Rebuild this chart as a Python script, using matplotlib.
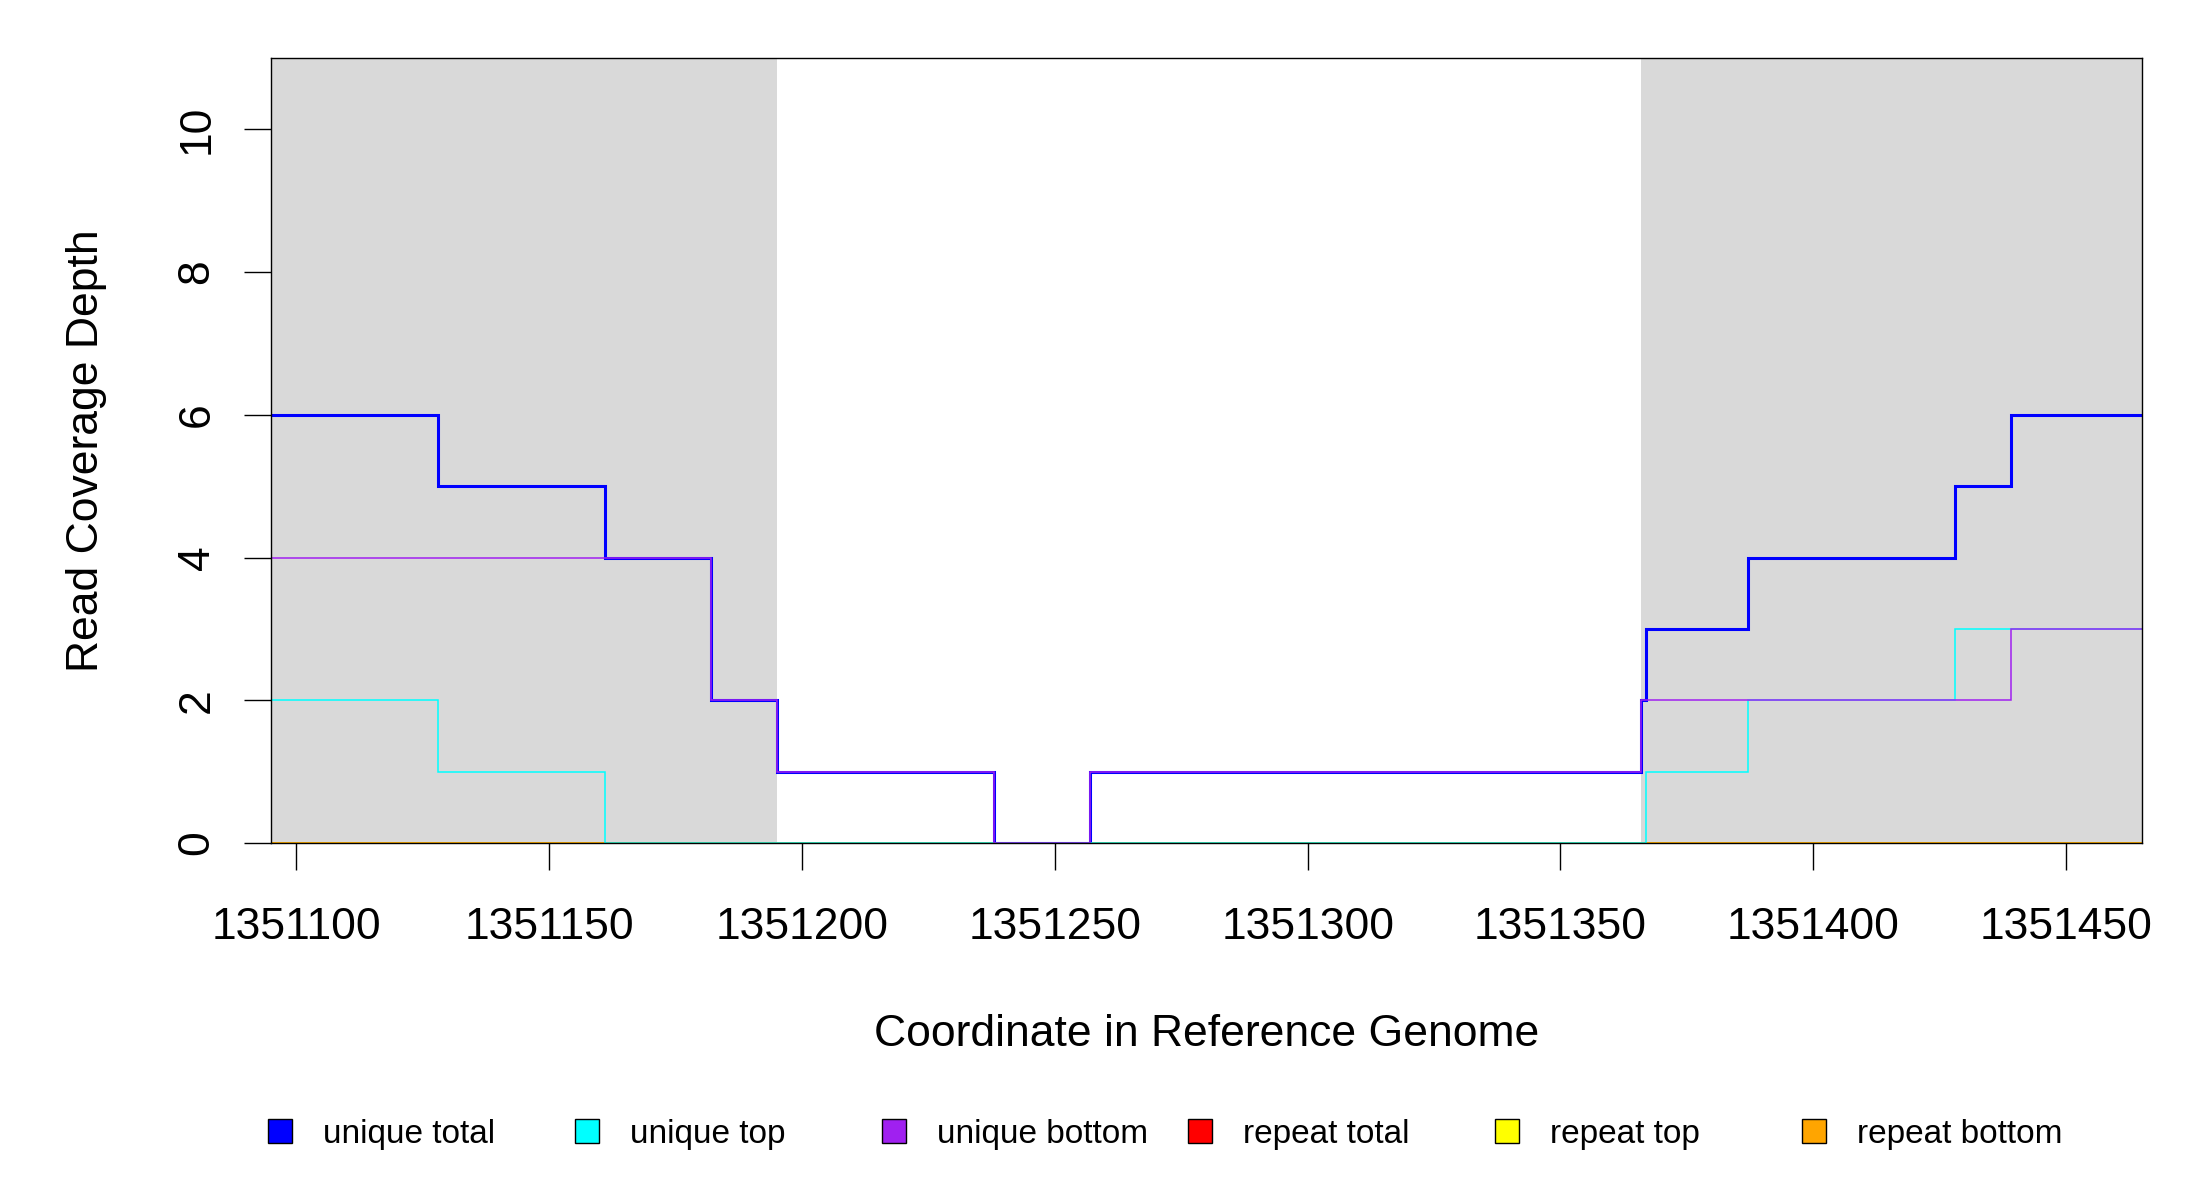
import matplotlib
matplotlib.use("Agg")
import matplotlib.pyplot as plt
from matplotlib.patches import Patch

plt.rcParams['font.family'] = ['Liberation Sans', 'DejaVu Sans']

# --- data ---
x_range = [1351095, 1351465]
y_range = [0, 11]
x_ticks = [1351100, 1351150, 1351200, 1351250, 1351300, 1351350, 1351400, 1351450]
y_ticks = [0, 2, 4, 6, 8, 10]

# grey shaded blocks
shaded_regions = [(1351095, 1351195), (1351366, 1351465)]

# unique reads (step edges + depth in each step)
unique_total_edges = [1351095, 1351128, 1351161, 1351182, 1351195, 1351238, 1351257,
                      1351366, 1351367, 1351387, 1351428, 1351439, 1351465]
unique_total_depth = [6, 5, 4, 2, 1, 0, 1, 2, 3, 4, 5, 6]

unique_top_edges = [1351095, 1351128, 1351161, 1351367, 1351387, 1351428, 1351465]
unique_top_depth = [2, 1, 0, 1, 2, 3]

unique_bottom_edges = [1351095, 1351182, 1351195, 1351238, 1351257, 1351366, 1351439, 1351465]
unique_bottom_depth = [4, 2, 1, 0, 1, 2, 3]

# repeat reads: nothing here
repeat_edges = [1351095, 1351465]
repeat_total_depth = [0]
repeat_top_depth = [0]
repeat_bottom_depth = [0]

legend_labels = ["unique total", "unique top", "unique bottom",
                 "repeat total", "repeat top", "repeat bottom"]
legend_colors = ["#0000FF", "#00FFFF", "#A020F0", "#FF0000", "#FFFF00", "#FFA500"]

# --- figure ---
fig = plt.figure(figsize=(22, 12), dpi=100)
ax = fig.add_axes([271 / 2200, 1 - 843 / 1200, 1871 / 2200, 785 / 1200])

for start, end in shaded_regions:
    ax.axvspan(start, end, color="#D9D9D9", lw=0, zorder=0)

# repeat lines first, unique lines on top
ax.stairs(repeat_total_depth, repeat_edges, baseline=None, color=legend_colors[3], lw=1.1)
ax.stairs(repeat_top_depth, repeat_edges, baseline=None, color=legend_colors[4], lw=1.1)
ax.stairs(repeat_bottom_depth, repeat_edges, baseline=None, color=legend_colors[5], lw=1.1)
ax.stairs(unique_total_depth, unique_total_edges, baseline=None, color=legend_colors[0], lw=2.2)
ax.stairs(unique_top_depth, unique_top_edges, baseline=None, color=legend_colors[1], lw=1.1)
ax.stairs(unique_bottom_depth, unique_bottom_edges, baseline=None, color=legend_colors[2], lw=1.1)

ax.set_xlim(x_range)
ax.set_ylim(y_range)

ax.set_xticks(x_ticks)
ax.set_xticklabels([str(t) for t in x_ticks], va="center")
ax.set_yticks(y_ticks)
ax.set_yticklabels([str(t) for t in y_ticks], rotation=90, va="center", ha="center")
ax.tick_params(axis="both", length=19.4, width=1.0, labelsize=32, color="black")
ax.tick_params(axis="x", pad=41.4)
ax.tick_params(axis="y", pad=33.8)

for sp in ax.spines.values():
    sp.set_linewidth(1.0)
    sp.set_zorder(5)

ax.set_xlabel("Coordinate in Reference Genome", fontsize=32)
ax.xaxis.set_label_coords(0.5, (843 - 1035) / 785)
ax.xaxis.label.set_va("center")
ax.set_ylabel("Read Coverage Depth", fontsize=32)
ax.yaxis.set_label_coords((87 - 271) / 1871, 0.5)
ax.yaxis.label.set_va("center")

# legend: one entry every ~307 px along the bottom
for i, (lab, col) in enumerate(zip(legend_labels, legend_colors)):
    fig.legend(handles=[Patch(facecolor=col, edgecolor="black", lw=1.0)], labels=[lab],
               loc="center left", bbox_to_anchor=((268 + i * 306.8) / 2200, 1 - 1134 / 1200),
               frameon=False, fontsize=24, handlelength=0.72, handleheight=0.72,
               handletextpad=0.93, borderpad=0, borderaxespad=0)

fig.savefig("out.png", dpi=100)
